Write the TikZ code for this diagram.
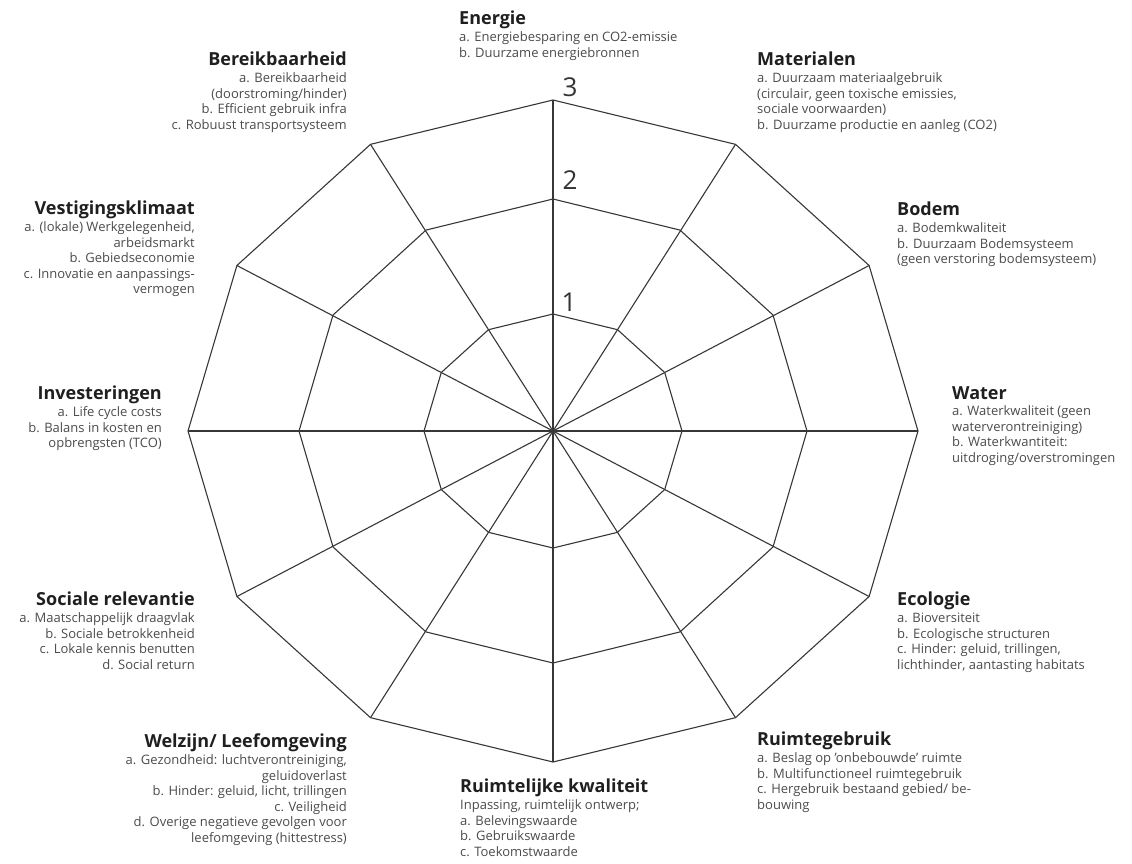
\documentclass[tikz,border=0pt]{standalone}
\usepackage{fontspec}
\setmainfont{Open Sans}
\usetikzlibrary{calc}
\definecolor{lijn}{RGB}{55,55,55}
\definecolor{tekst}{RGB}{75,75,75}
\newcommand{\kop}[1] % titel van een thema
{{\fontsize{18}{20}\selectfont\bfseries\color{black!88}#1}\\[1pt]}
\tikzset{
	web/.style={draw=lijn, line width=1.1pt, line join=miter},
	blok/.style={inner sep=0pt, font=\fontsize{13}{15.6}\selectfont, text=tekst},
	links/.style={blok, anchor=north west, align=left},
	rechts/.style={blok, anchor=north east, align=right},
	cijfer/.style={inner sep=0pt, font=\fontsize{26}{26}\selectfont, text=black!80}
}

\begin{document}
\begin{tikzpicture}[x=1pt, y=-1pt]
	\useasboundingbox (0,0) rectangle (1132,863);
	% midden van het web
	\coordinate (c) at (553,431);
	% ringen 1, 2, 3 (beeld is horizontaal iets uitgerekt)
	\foreach \rx/\ry in {129/117, 254/232, 365/331}
		\draw[web, shift={(c)}] (0:\rx pt and \ry pt)
			\foreach \a in {30,60,...,330} {-- (\a:\rx pt and \ry pt)} -- cycle;
	% spaken
	\foreach \a in {0,30,...,330}
		\draw[web] (c) -- ($(c)+(\a:365pt and 331pt)$);
	\fill[lijn] (c) circle (1.6pt);
	
	% schaal
	\node[cijfer] (een) at (569,302) {1};
	\node[cijfer] (twee) at (570,180) {2};
	\node[cijfer] (drie) at (570,87) {3};
	
	% thema's
	\node[links] (energie) at (459,11) {\kop{Energie}
		a. Energiebesparing en CO2-emissie\\
		b. Duurzame energiebronnen};
	\node[links] (materialen) at (757,52) {\kop{Materialen}
		a. Duurzaam materiaalgebruik\\
		(circulair, geen toxische emissies,\\
		sociale voorwaarden)\\
		b. Duurzame productie en aanleg (CO2)};
	\node[links] (bodem) at (897,202) {\kop{Bodem}
		a. Bodemkwaliteit\\
		b. Duurzaam Bodemsysteem\\
		(geen verstoring bodemsysteem)};
	\node[links] (water) at (952,386) {\kop{Water}
		a. Waterkwaliteit (geen\\
		waterverontreiniging)\\
		b. Waterkwantiteit:\\
		uitdroging/overstromingen};
	\node[links] (ecologie) at (897,592) {\kop{Ecologie}
		a. Bioversiteit\\
		b. Ecologische structuren\\
		c. Hinder: geluid, trillingen,\\
		lichthinder, aantasting habitats};
	\node[links] (ruimtegebruik) at (757,732) {\kop{Ruimtegebruik}
		a. Beslag op 'onbebouwde' ruimte\\
		b. Multifunctioneel ruimtegebruik\\
		c. Hergebruik bestaand gebied/ be-\\
		bouwing};
	\node[links] (kwaliteit) at (460,779) {\kop{Ruimtelijke kwaliteit}
		Inpassing, ruimtelijk ontwerp;\\
		a. Belevingswaarde\\
		b. Gebruikswaarde\\
		c. Toekomstwaarde};
	\node[rechts] (welzijn) at (347,734) {\kop{Welzijn/ Leefomgeving}
		a. Gezondheid: luchtverontreiniging,\\
		geluidoverlast\\
		b. Hinder: geluid, licht, trillingen\\
		c. Veiligheid\\
		d. Overige negatieve gevolgen voor\\
		leefomgeving (hittestress)};
	\node[rechts] (sociaal) at (195,592) {\kop{Sociale relevantie}
		a. Maatschappelijk draagvlak\\
		b. Sociale betrokkenheid\\
		c. Lokale kennis benutten\\
		d. Social return};
	\node[rechts] (investeringen) at (162,386) {\kop{Investeringen}
		a. Life cycle costs\\
		b. Balans in kosten en\\
		opbrengsten (TCO)};
	\node[rechts] (vestiging) at (195,201) {\kop{Vestigingsklimaat}
		a. (lokale) Werkgelegenheid,\\
		arbeidsmarkt\\
		b. Gebiedseconomie\\
		c. Innovatie en aanpassings-\\
		vermogen};
	\node[rechts] (bereikbaarheid) at (347,52) {\kop{Bereikbaarheid}
		a. Bereikbaarheid\\
		(doorstroming/hinder)\\
		b. Efficient gebruik infra\\
		c. Robuust transportsysteem};
\end{tikzpicture}
\end{document}
